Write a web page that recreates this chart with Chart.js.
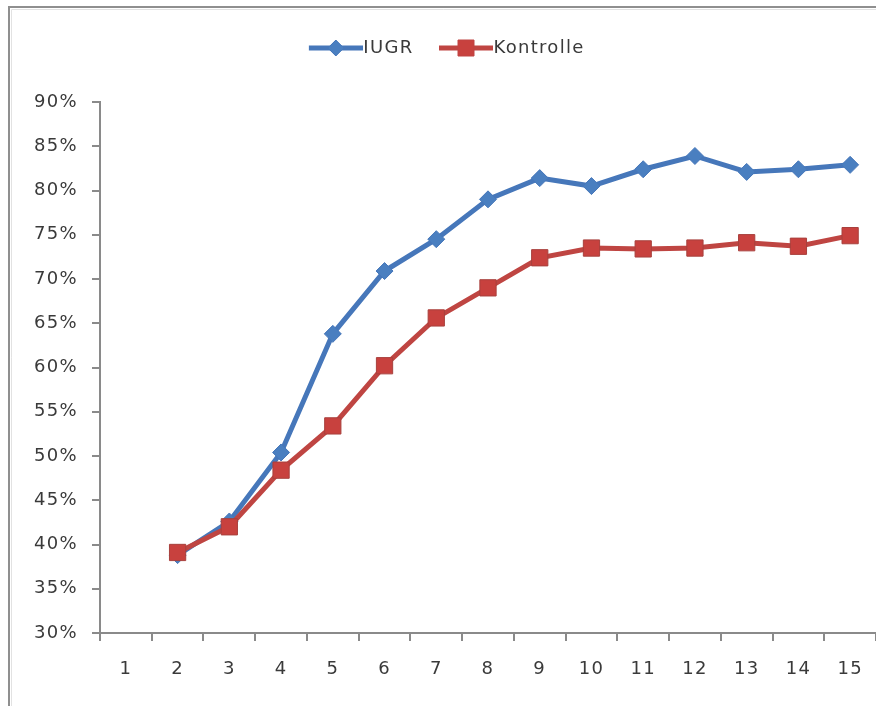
<!DOCTYPE html>
<html>
<head>
<meta charset="utf-8">
<script src="https://cdn.jsdelivr.net/npm/chart.js@4/dist/chart.umd.min.js"></script>
<style>
  html, body { margin: 0; padding: 0; background: #ffffff; }
  #wrap { width: 876px; height: 706px; position: relative; }
</style>
</head>
<body>
<div id="wrap"><canvas id="chart" width="876" height="706"></canvas></div>
<script>
// Categories on the x axis
const categories = ['1', '2', '3', '4', '5', '6', '7', '8', '9', '10', '11', '12', '13', '14', '15'];

// Series values in percent (no value at category 1)
const iugrValues = [null, 38.8, 42.6, 50.4, 63.8, 70.9, 74.5, 79.0, 81.4, 80.5, 82.4, 83.9, 82.1, 82.4, 82.9];
const kontrolleValues = [null, 39.1, 42.0, 48.4, 53.4, 60.2, 65.6, 69.0, 72.4, 73.5, 73.4, 73.5, 74.1, 73.7, 74.9];

// Series names
const seriesNames = ['IUGR', 'Kontrolle'];

// Y axis tick range
const yTickMin = 30;
const yTickMax = 90;
const yTickStep = 5;

const BLUE_LINE = '#4677BA';
const BLUE_FILL = '#4A7FC0';
const RED_LINE = '#BF4542';
const RED_FILL = '#C8413E';
const AXIS = '#8a8a8a';
const TEXT = '#3a3a3a';
const FONT = 'DejaVu Sans';
const LETTER_SPACING = '1.3px';

// Legend symbol: a short line segment with the series marker in its middle
function legendSymbol(lineColor, fillColor, marker) {
  const c = document.createElement('canvas');
  c.width = 80; c.height = 22;
  const g = c.getContext('2d');
  const x0 = 26, x1 = 80, cy = 11, mx = (x0 + x1) / 2;
  g.strokeStyle = lineColor;
  g.lineWidth = 5;
  g.beginPath(); g.moveTo(x0, cy); g.lineTo(x1, cy); g.stroke();
  g.fillStyle = fillColor;
  g.strokeStyle = lineColor;
  g.lineWidth = 1;
  g.beginPath();
  if (marker === 'diamond') {
    const r = 8;
    g.moveTo(mx, cy - r); g.lineTo(mx + r, cy); g.lineTo(mx, cy + r); g.lineTo(mx - r, cy); g.closePath();
  } else {
    const h = 8;
    g.rect(mx - h, cy - h, 2 * h, 2 * h);
  }
  g.fill(); g.stroke();
  return c;
}

const legendSymbols = [
  legendSymbol(BLUE_LINE, BLUE_FILL, 'diamond'),
  legendSymbol(RED_LINE, RED_FILL, 'square')
];

// Slightly wider text tracking for all labels
const tracking = {
  id: 'tracking',
  afterInit(chart) { chart.ctx.letterSpacing = LETTER_SPACING; },
  beforeUpdate(chart) { chart.ctx.letterSpacing = LETTER_SPACING; },
  beforeDraw(chart) { chart.ctx.letterSpacing = LETTER_SPACING; }
};

// Outer frame of the chart (top and left edges)
const framePlugin = {
  id: 'frame',
  beforeDraw(chart) {
    const ctx = chart.ctx;
    ctx.save();
    ctx.fillStyle = '#ffffff';
    ctx.fillRect(0, 0, chart.width, chart.height);
    ctx.strokeStyle = '#8f8f8f';
    ctx.lineWidth = 2;
    ctx.beginPath();
    ctx.moveTo(9, chart.height);
    ctx.lineTo(9, 7);
    ctx.lineTo(chart.width, 7);
    ctx.stroke();
    ctx.strokeStyle = '#e2e2e2';
    ctx.lineWidth = 1;
    ctx.beginPath();
    ctx.moveTo(11.5, chart.height);
    ctx.lineTo(11.5, 9.5);
    ctx.lineTo(chart.width, 9.5);
    ctx.stroke();
    ctx.restore();
  }
};

// Extra room between the legend and the plot area
const legendSpacing = {
  id: 'legendSpacing',
  beforeInit(chart) {
    const fit = chart.legend.fit;
    chart.legend.fit = function () {
      fit.call(this);
      this.height += 35;
    };
  }
};

new Chart(document.getElementById('chart'), {
  type: 'line',
  data: {
    labels: categories,
    datasets: [
      {
        label: seriesNames[0],
        data: iugrValues,
        order: 1,
        borderColor: BLUE_LINE,
        backgroundColor: BLUE_FILL,
        borderWidth: 5,
        tension: 0,
        pointStyle: 'rectRot',
        pointRadius: 8.5,
        pointBorderWidth: 1,
        pointBorderColor: BLUE_LINE,
        pointBackgroundColor: BLUE_FILL
      },
      {
        label: seriesNames[1],
        data: kontrolleValues,
        order: 0,
        borderColor: RED_LINE,
        backgroundColor: RED_FILL,
        borderWidth: 5,
        tension: 0,
        pointStyle: 'rect',
        pointRadius: 11.5,
        pointBorderWidth: 1,
        pointBorderColor: '#a8403d',
        pointBackgroundColor: RED_FILL
      }
    ]
  },
  options: {
    responsive: false,
    animation: false,
    devicePixelRatio: 1,
    layout: { autoPadding: false, padding: { top: 31, right: 0, bottom: 0, left: 0 } },
    plugins: {
      tooltip: { enabled: false },
      legend: {
        display: true,
        position: 'top',
        labels: {
          usePointStyle: true,
          pointStyleWidth: 63,
          padding: 8,
          color: TEXT,
          font: { family: FONT, size: 18 },
          generateLabels(chart) {
            return chart.data.datasets.map((ds, i) => ({
              text: ds.label,
              pointStyle: legendSymbols[i],
              fillStyle: ds.backgroundColor,
              strokeStyle: ds.borderColor,
              lineWidth: 0,
              hidden: false,
              datasetIndex: i,
              fontColor: TEXT
            }));
          }
        }
      }
    },
    scales: {
      x: {
        offset: true,
        afterFit(scale) {
          scale.height = 73;
          scale.paddingLeft = 0;
          scale.paddingRight = 0;
        },
        border: { display: true, color: AXIS, width: 2 },
        grid: {
          offset: true,
          drawOnChartArea: false,
          drawTicks: true,
          tickLength: 8,
          color: AXIS,
          lineWidth: 2
        },
        ticks: {
          color: TEXT,
          padding: 18,
          maxRotation: 0,
          autoSkip: false,
          font: { family: FONT, size: 18 }
        }
      },
      y: {
        min: yTickMin,
        max: yTickMax,
        afterFit(scale) { scale.width = 100; },
        border: { display: true, color: AXIS, width: 2 },
        grid: {
          drawOnChartArea: false,
          drawTicks: true,
          tickLength: 8,
          color: AXIS,
          lineWidth: 2
        },
        ticks: {
          stepSize: yTickStep,
          color: TEXT,
          padding: 14,
          font: { family: FONT, size: 18 },
          callback: (v) => v + '%'
        }
      }
    }
  },
  plugins: [tracking, framePlugin, legendSpacing]
});
</script>
</body>
</html>
